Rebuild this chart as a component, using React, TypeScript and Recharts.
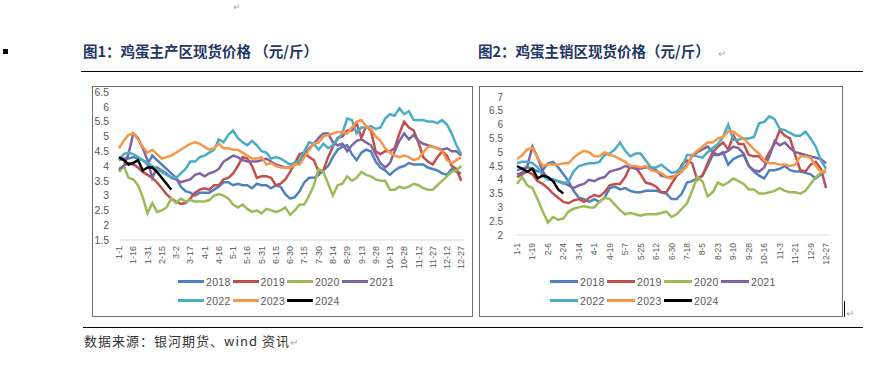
import React from 'react';
import { LineChart, Line, XAxis, YAxis, Legend } from 'recharts';

// tick labels of the two charts
const prodTicks = ['1-1', '1-16', '1-31', '2-15', '3-2', '3-17', '4-1', '4-16', '5-1', '5-16', '5-31', '6-15', '6-30', '7-15', '7-30', '8-14', '8-29', '9-13', '9-28', '10-13', '10-28', '11-12', '11-27', '12-12', '12-27'];
const salesTicks = ['1-1', '1-19', '2-6', '2-24', '3-14', '4-1', '4-19', '5-7', '5-25', '6-12', '6-30', '7-18', '8-5', '8-23', '9-10', '9-28', '10-16', '11-3', '11-21', '12-9', '12-27'];

const years = ['2018', '2019', '2020', '2021', '2022', '2023', '2024'];
const colors = ['#4F81BD', '#C0504D', '#9BBB59', '#8064A2', '#4BACC6', '#F79646', '#000000'];

// 图1 main producing areas, one value every 5 days from 1-1
const prod2018 = [4.2, 4.25, 4.25, 4.3, 4.25, 4.2, 4.05, 4.35, 4.2, 4.05, 3.9, 3.75, 3.6, 3.3, 3.15, 3.1, 3.0, 3.1, 3.1, 3.1, 3.2, 3.3, 3.45, 3.45, 3.35, 3.4, 3.35, 3.35, 3.25, 3.4, 3.35, 3.35, 3.25, 3.35, 3.3, 3.05, 2.9, 2.95, 3.15, 3.45, 3.6, 3.6, 3.7, 3.85, 4.0, 4.3, 4.55, 4.65, 4.7, 4.4, 4.2, 4.45, 4.55, 4.5, 4.15, 3.95, 3.85, 3.7, 3.85, 3.95, 4.0, 4.1, 4.05, 4.05, 4.05, 3.95, 3.9, 3.85, 3.75, 3.7, 3.9, 3.8, 3.75];
const prod2019 = [3.85, 4.0, 4.1, 4.05, 3.95, 3.8, 3.7, 3.6, 3.45, 3.25, 3.05, 2.9, 2.8, 2.72, 2.75, 2.9, 3.1, 3.2, 3.25, 3.2, 3.35, 3.35, 3.55, 3.6, 3.75, 4.0, 4.3, 4.25, 4.0, 3.6, 3.65, 3.65, 3.6, 3.35, 3.4, 3.55, 3.8, 4.1, 4.4, 4.45, 4.3, 4.2, 3.8, 3.85, 4.3, 4.65, 4.95, 5.0, 5.2, 5.2, 5.45, 4.95, 5.35, 5.2, 4.5, 4.4, 4.5, 4.5, 4.6, 5.1, 5.5, 5.3, 5.2, 4.8, 4.3, 4.15, 4.05, 4.3, 4.5, 4.35, 4.0, 3.9, 3.5];
const prod2020 = [3.8, 4.0, 3.6, 3.55, 3.35, 2.95, 2.4, 2.75, 2.45, 2.5, 2.6, 2.9, 2.75, 2.9, 2.8, 2.85, 2.8, 2.8, 2.8, 2.85, 3.0, 3.05, 3.0, 2.9, 2.7, 2.6, 2.7, 2.55, 2.45, 2.5, 2.4, 2.55, 2.5, 2.45, 2.5, 2.6, 2.35, 2.5, 2.7, 2.7, 3.0, 3.35, 3.9, 3.8, 3.4, 3.0, 3.35, 3.4, 3.65, 3.5, 3.6, 3.8, 3.7, 3.65, 3.55, 3.5, 3.5, 3.2, 3.2, 3.3, 3.25, 3.3, 3.4, 3.35, 3.25, 3.2, 3.2, 3.35, 3.5, 3.65, 3.8, 3.85, 4.0];
const prod2021 = [3.9, 4.0, 4.4, 5.1, 4.95, 4.6, 4.2, 3.6, 3.95, 3.85, 3.75, 3.6, 3.55, 3.45, 3.5, 3.55, 3.7, 3.75, 3.65, 3.75, 3.8, 3.9, 4.15, 4.25, 4.35, 4.3, 4.2, 4.15, 4.15, 4.15, 4.2, 4.25, 4.15, 4.05, 4.0, 3.95, 3.95, 4.05, 4.1, 4.4, 4.6, 4.75, 4.95, 5.1, 5.1, 4.8, 4.7, 4.75, 4.5, 4.7, 4.85, 4.9, 4.8, 4.7, 4.4, 4.1, 3.95, 4.1, 4.5, 4.85, 5.1, 4.9, 5.05, 4.85, 4.75, 4.7, 4.65, 4.6, 4.55, 4.6, 4.5, 4.5, 4.35];
const prod2022 = [4.2, 4.4, 4.45, 4.4, 4.3, 4.2, 4.1, 4.0, 3.9, 3.8, 3.7, 3.62, 3.6, 3.75, 3.9, 4.15, 4.15, 4.3, 4.35, 4.45, 4.55, 4.9, 4.8, 5.05, 5.2, 4.95, 4.8, 4.7, 4.85, 4.7, 4.5, 4.45, 4.25, 4.3, 4.25, 4.15, 4.05, 4.1, 4.2, 4.5, 4.8, 4.75, 4.55, 4.75, 4.6, 4.7, 4.9, 5.1, 5.6, 5.55, 5.1, 5.3, 5.3, 5.35, 5.25, 5.3, 5.6, 5.75, 5.7, 5.95, 5.75, 5.85, 5.55, 5.55, 5.55, 5.5, 5.5, 5.45, 5.55, 5.4, 5.1, 4.7, 4.4];
const prod2023 = [4.6, 4.85, 5.05, 5.1, 4.9, 4.65, 4.45, 4.55, 4.4, 4.25, 4.3, 4.35, 4.45, 4.55, 4.65, 4.75, 4.8, 4.75, 4.65, 4.55, 4.6, 4.75, 4.6, 4.6, 4.55, 4.55, 4.45, 4.35, 4.25, 4.25, 4.3, 4.05, 4.1, 4.0, 3.95, 3.95, 3.95, 4.05, 4.05, 4.3, 4.55, 4.75, 4.8, 5.0, 5.05, 5.1, 5.15, 5.15, 5.1, 5.3, 5.5, 5.55, 5.35, 5.25, 5.0, 4.85, 4.6, 4.45, 4.35, 4.3, 4.35, 4.3, 4.2, 4.25, 4.45, 4.65, 4.65, 4.6, 4.5, 4.2, 4.1, 4.2, 4.3];
const prod2024 = [4.3, 4.2, 4.05, 4.1, 4.2, 3.85, 3.95, 3.95, 3.8, 3.6, 3.4, 3.2];

// 图2 main selling areas, one value every 6 days from 1-1
const sales2018 = [4.35, 4.4, 4.45, 4.4, 4.3, 4.35, 4.6, 4.65, 4.45, 4.2, 3.95, 3.6, 3.35, 3.3, 3.2, 3.3, 3.2, 3.35, 3.7, 3.75, 3.65, 3.7, 3.6, 3.55, 3.55, 3.6, 3.6, 3.6, 3.55, 3.5, 3.3, 3.3, 3.5, 3.9, 3.95, 4.05, 4.15, 4.5, 4.9, 4.9, 5.0, 4.55, 4.75, 4.85, 4.9, 4.5, 4.3, 4.15, 4.05, 4.35, 4.35, 4.4, 4.5, 4.35, 4.3, 4.3, 4.25, 4.2, 4.05, 4.2, 4.3];
const sales2019 = [4.1, 4.2, 4.3, 4.2, 3.95, 3.85, 3.7, 3.5, 3.35, 3.2, 3.15, 3.25, 3.3, 3.2, 3.35, 3.45, 3.4, 3.55, 3.8, 3.85, 3.85, 4.1, 4.5, 4.45, 4.2, 3.9, 3.85, 3.75, 3.55, 3.55, 3.85, 4.15, 4.55, 4.7, 4.6, 4.0, 4.15, 4.6, 5.0, 5.2, 5.35, 5.1, 5.6, 5.3, 5.3, 4.9, 4.85, 4.85, 4.65, 5.0, 5.3, 5.8, 5.6, 5.5, 4.9, 4.35, 4.3, 4.55, 4.65, 4.4, 3.7];
const sales2020 = [3.85, 4.1, 3.8, 3.7, 3.3, 2.85, 2.45, 2.65, 2.55, 2.6, 2.85, 2.95, 3.0, 3.05, 3.0, 3.0, 3.2, 3.35, 3.3, 3.1, 2.9, 2.75, 2.8, 2.75, 2.7, 2.75, 2.75, 2.75, 2.8, 2.85, 2.65, 2.75, 2.95, 3.15, 3.6, 4.1, 3.95, 3.4, 3.55, 3.9, 3.8, 3.9, 4.05, 3.95, 3.85, 3.65, 3.65, 3.5, 3.5, 3.55, 3.6, 3.7, 3.6, 3.55, 3.55, 3.5, 3.6, 3.85, 4.1, 4.25, 4.3];
const sales2021 = [4.2, 4.25, 4.5, 5.2, 4.8, 4.3, 4.05, 4.0, 3.95, 3.9, 3.8, 3.7, 3.8, 3.85, 4.0, 3.95, 4.05, 4.1, 4.3, 4.35, 4.4, 4.5, 4.45, 4.4, 4.4, 4.45, 4.45, 4.35, 4.15, 4.1, 4.1, 4.15, 4.3, 4.55, 4.85, 5.0, 5.1, 5.2, 5.0, 4.9, 4.95, 5.05, 5.2, 5.15, 4.95, 4.5, 4.35, 4.3, 4.45, 4.85, 5.4, 5.25, 5.35, 5.15, 5.0, 4.95, 4.9, 4.85, 4.8, 4.75, 4.6];
const sales2022 = [4.6, 4.65, 4.65, 4.6, 4.45, 4.15, 4.0, 4.0, 3.95, 3.85, 3.95, 4.3, 4.5, 4.55, 4.6, 4.6, 4.65, 4.9, 4.95, 5.1, 5.35, 5.05, 4.85, 4.95, 4.95, 4.7, 4.45, 4.45, 4.55, 4.4, 4.25, 4.3, 4.45, 4.9, 4.9, 4.85, 4.8, 5.0, 5.15, 5.3, 5.55, 6.0, 5.45, 5.45, 5.5, 5.5, 5.55, 6.05, 6.1, 6.3, 6.2, 5.85, 5.8, 5.7, 5.6, 5.6, 5.75, 5.5, 5.2, 4.7, 4.4];
const sales2023 = [4.75, 4.9, 5.1, 5.15, 4.8, 4.5, 4.55, 4.55, 4.55, 4.6, 4.6, 4.8, 4.95, 5.05, 5.0, 4.85, 4.85, 5.0, 4.9, 4.85, 4.75, 4.65, 4.5, 4.5, 4.45, 4.5, 4.35, 4.3, 4.25, 4.1, 4.05, 4.2, 4.3, 4.5, 4.9, 5.05, 5.2, 5.35, 5.35, 5.5, 5.55, 5.75, 5.75, 5.6, 5.5, 5.3, 5.1, 4.95, 4.7, 4.6, 4.6, 4.55, 4.55, 4.5, 4.55, 4.85, 4.85, 4.8, 4.5, 4.3, 4.35];
const sales2024 = [4.5, 4.4, 4.3, 4.4, 4.05, 4.15, 4.1, 3.95, 3.65, 3.5];

const tickFont = '"Liberation Sans", Arial, sans-serif';
const cjkFont = '"Noto Sans CJK SC", "Noto Sans", sans-serif';

function buildRows(step: number, seriesList: number[][]) {
  const n = Math.max(...seriesList.map((s) => s.length));
  return Array.from({ length: n }, (_, i) => {
    const row: any = { day: i * step };
    seriesList.forEach((s, k) => {
      if (i < s.length) row[years[k]] = s[i];
    });
    return row;
  });
}

const prodRows = buildRows(5, [prod2018, prod2019, prod2020, prod2021, prod2022, prod2023, prod2024]);
const salesRows = buildRows(6, [sales2018, sales2019, sales2020, sales2021, sales2022, sales2023, sales2024]);

const RotatedTick = ({ x, y, payload, labels, step, fontSize }: any) => (
  <text
    x={x}
    y={y}
    transform={`rotate(-90 ${x} ${y})`}
    textAnchor="end"
    dy="0.35em"
    fontSize={fontSize}
    fontFamily={tickFont}
    fill="#595959"
  >
    {labels[Math.round(payload.value / step)]}
  </text>
);

const LegendGrid = ({ pitch, swatch }: { pitch: number; swatch: number }) => (
  <div style={{ display: 'flex', flexWrap: 'wrap', width: pitch * 4 }}>
    {years.map((y, i) => (
      <div key={y} style={{ width: pitch, height: 19, display: 'flex', alignItems: 'center' }}>
        <span style={{ display: 'inline-block', width: swatch, height: 3, background: colors[i], marginRight: 2 }} />
        <span style={{ fontSize: 10.5, color: '#595959', fontFamily: tickFont, letterSpacing: 0.3 }}>{y}</span>
      </div>
    ))}
  </div>
);

function PriceChart(props: any) {
  const { rows, tickLabels, tickStep, yDomain, yTicks, width, height, margin, yWidth, yTickMargin, yFont, xTickMargin, xFont, legendLeft, pitch, swatch } = props;
  const tickDays = tickLabels.map((_: string, i: number) => i * tickStep);
  return (
    <LineChart width={width} height={height} data={rows} margin={margin}>
      <XAxis
        dataKey="day"
        type="number"
        domain={[0, 364]}
        ticks={tickDays}
        interval={0}
        height={30}
        axisLine={{ stroke: '#d9d9d9' }}
        tickLine={false}
        tickSize={0}
        tickMargin={xTickMargin}
        tick={<RotatedTick labels={tickLabels} step={tickStep} fontSize={xFont} />}
      />
      <YAxis
        type="number"
        domain={yDomain}
        ticks={yTicks}
        interval={0}
        width={yWidth}
        axisLine={false}
        tickLine={false}
        tickSize={0}
        tickMargin={yTickMargin}
        tick={{ fontSize: yFont, fill: '#595959', fontFamily: tickFont }}
      />
      <Legend
        layout="horizontal"
        verticalAlign="middle"
        align="center"
        wrapperStyle={{ left: legendLeft, top: 186, width: pitch * 4 }}
        content={() => <LegendGrid pitch={pitch} swatch={swatch} />}
      />
      {years.map((y, i) => (
        <Line
          key={y}
          type="linear"
          dataKey={y}
          stroke={colors[i]}
          strokeWidth={2.5}
          dot={false}
          activeDot={false}
          isAnimationActive={false}
        />
      ))}
    </LineChart>
  );
}

const abs = (left: number, top: number, extra: React.CSSProperties = {}): React.CSSProperties => ({
  position: 'absolute',
  left,
  top,
  ...extra,
});

const titleStyle: React.CSSProperties = {
  fontSize: 14.5,
  fontWeight: 700,
  color: '#1F3864',
  fontFamily: cjkFont,
  whiteSpace: 'nowrap',
  lineHeight: '18px',
};

export default function App() {
  return (
    <div style={{ position: 'absolute', left: 0, top: 0, width: 885, height: 366, background: '#fff', overflow: 'hidden' }}>
      <div style={abs(233, 1, { fontSize: 9, lineHeight: '12px', color: '#aaa', fontFamily: cjkFont })}>↵</div>
      <div style={abs(3, 49, { width: 5, height: 5, background: '#000' })} />

      <div style={abs(83, 42, titleStyle)}>图1：鸡蛋主产区现货价格 （元/斤）</div>
      <div style={abs(478, 42, titleStyle)}>
        图2：鸡蛋主销区现货价格（元/斤）
        <span style={{ fontSize: 10, color: '#aaa', fontWeight: 400, marginLeft: 8 }}>↵</span>
      </div>
      <div style={abs(81, 71, { width: 782, height: 1, background: '#000' })} />

      <div style={abs(92, 86, { width: 381, height: 231, border: '1px solid #707070', boxSizing: 'border-box' })} />
      <div style={abs(479, 86, { width: 364, height: 231, border: '1px solid #707070', boxSizing: 'border-box' })} />

      <div style={abs(92, 86)}>
        <PriceChart
          rows={prodRows}
          tickLabels={prodTicks}
          tickStep={15}
          yDomain={[1.5, 6.5]}
          yTicks={[1.5, 2, 2.5, 3, 3.5, 4, 4.5, 5, 5.5, 6, 6.5]}
          width={380}
          height={230}
          margin={{ top: 6, right: 7, bottom: 46, left: 0 }}
          yWidth={27}
          yTickMargin={10}
          yFont={10.5}
          xTickMargin={6}
          xFont={9}
          legendLeft={86}
          pitch={54.5}
          swatch={26}
        />
      </div>
      <div style={abs(479, 86)}>
        <PriceChart
          rows={salesRows}
          tickLabels={salesTicks}
          tickStep={18}
          yDomain={[2, 7]}
          yTicks={[2, 2.5, 3, 3.5, 4, 4.5, 5, 5.5, 6, 6.5, 7]}
          width={363}
          height={230}
          margin={{ top: 11, right: 12.5, bottom: 51, left: 0 }}
          yWidth={38}
          yTickMargin={14}
          yFont={10}
          xTickMargin={8}
          xFont={8.5}
          legendLeft={71}
          pitch={57}
          swatch={28}
        />
      </div>

      <div style={abs(844, 301, { width: 1, height: 16, background: '#000' })} />
      <div style={abs(846, 305, { fontSize: 10, color: '#aaa', fontFamily: cjkFont })}>↵</div>

      <div style={abs(83, 327, { width: 780, height: 1, background: '#000' })} />
      <div style={abs(84, 333, { fontSize: 13, color: '#333', fontFamily: cjkFont, letterSpacing: 1, whiteSpace: 'nowrap', lineHeight: '16px' })}>
        数据来源：银河期货、wind 资讯<span style={{ fontSize: 10, color: '#aaa', letterSpacing: 0 }}>↵</span>
      </div>
    </div>
  );
}
